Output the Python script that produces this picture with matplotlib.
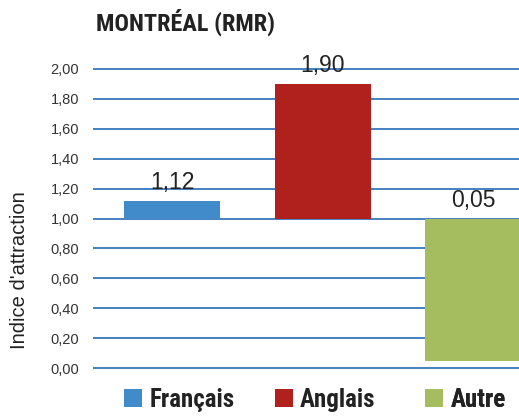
import matplotlib
matplotlib.use("Agg")
import matplotlib.pyplot as plt
from matplotlib.patches import Patch
from matplotlib import font_manager as fm
from matplotlib.transforms import blended_transform_factory

categories = ["Français", "Anglais", "Autre"]
values = [1.12, 1.90, 0.05]
value_labels = ["1,12", "1,90", "0,05"]
colors = ["#428BCA", "#B0211D", "#A5BD5E"]
yticks = [0.0, 0.2, 0.4, 0.6, 0.8, 1.0, 1.2, 1.4, 1.6, 1.8, 2.0]
ytick_labels = ["0,00", "0,20", "0,40", "0,60", "0,80", "1,00", "1,20", "1,40", "1,60", "1,80", "2,00"]
baseline = 1.0

installed = {f.name for f in fm.fontManager.ttflist}
def pick(cands):
    for c in cands:
        if c in installed:
            return c
    return "DejaVu Sans"

cond = pick(["Roboto Condensed", "Barlow Condensed", "Archivo Narrow", "Liberation Sans Narrow",
             "Open Sans Condensed", "PT Sans Narrow", "Oswald"])

W, H = 519, 417
fig = plt.figure(figsize=(W / 100, H / 100), dpi=100)

ppu = (368 - 69) / 2.0
ylo, yhi = -0.05, 2.05
bottom_px = 368 + (0 - ylo) * ppu
top_px = 69 - (yhi - 2.0) * ppu
ax = fig.add_axes([93 / W, 1 - bottom_px / H, 1 - 93 / W, (bottom_px - top_px) / H])
ax.set_ylim(ylo, yhi)

unit = 150.5
x0 = 172
ax.set_xlim(-(x0 - 93) / unit, (W - x0) / unit)

xs = list(range(len(categories)))
heights = [v - baseline for v in values]
bar_w = 96 / unit
ax.bar(xs, heights, bottom=baseline, width=bar_w, color=colors, zorder=3)

for x, v, lab in zip(xs, values, value_labels):
    ax.annotate(lab, (x, max(v, baseline)), xytext=(0, 5), textcoords="offset points",
                ha="center", va="bottom", fontsize=16.5, family="Liberation Sans",
                color="#222222", zorder=4, annotation_clip=False)

for t in yticks:
    ax.axhline(t, color="#3577BC", lw=1.3, zorder=1)

ax.set_yticks(yticks)
ax.set_yticklabels(ytick_labels, fontsize=10.5, family="Liberation Sans", color="#333333")
ax.tick_params(axis="y", length=0, pad=10)
ax.set_xticks([])
for s in ax.spines.values():
    s.set_visible(False)

fig.text(20 / W, 1 - 270 / H, "Indice d'attraction", rotation=90, ha="center", va="center",
         fontsize=14.5, family="Liberation Sans", color="#222222")

fig.text(96 / W, 1 - 22 / H, "MONTRÉAL (RMR)", ha="left", va="center", fontsize=17.5,
         family=cond, weight="bold", color="#222222")

# one legend entry per category, each aligned with the left edge of its bar
trans = blended_transform_factory(ax.transData, fig.transFigure)
for x, c, name in zip(xs, colors, categories):
    leg = ax.legend([Patch(facecolor=c, edgecolor="none")], [name], loc="center left",
                    bbox_to_anchor=(x - bar_w / 2, 1 - 400 / H), bbox_transform=trans,
                    frameon=False, borderpad=0, borderaxespad=0,
                    handlelength=0.72, handleheight=0.72, handletextpad=0.3,
                    prop={"family": cond, "weight": "bold", "size": 18})
    for t in leg.get_texts():
        t.set_color("#222222")
    leg.set_clip_on(False)
    ax.add_artist(leg)

fig.savefig("out.png", dpi=100)
